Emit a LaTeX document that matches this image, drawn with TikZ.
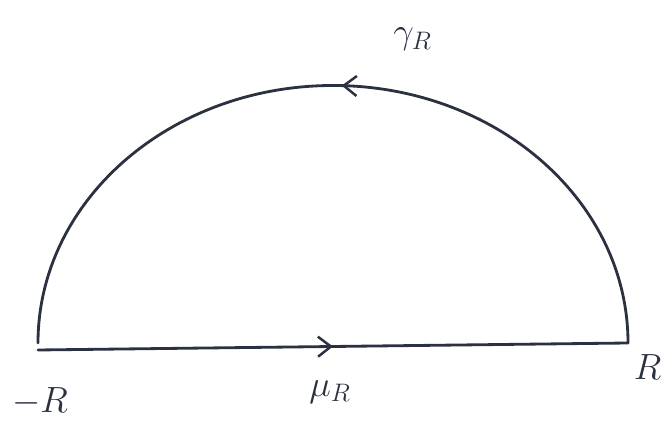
\documentclass[tikz,border=0pt]{standalone}
\usepackage{amsmath}
\definecolor{ink}{HTML}{2B3140}
\usetikzlibrary{arrows.meta,decorations.markings}

\begin{document}
\begin{tikzpicture}[
  curve/.style={draw=ink,line width=1.6pt,line cap=round},
  midarr/.style={postaction={decorate},decoration={markings,
    mark=at position #1 with {\arrow{Straight Barb[length=2.6mm,width=4mm,line width=1.4pt]}}}},
  lbl/.style={text=ink,font=\huge,inner sep=1pt}]
  \useasboundingbox (0,0) rectangle (13.28,8.64);
  \coordinate (mR) at (0.76,1.64);
  \coordinate (pR) at (12.56,1.78);
  % segment along the axis
  \draw[curve,midarr=0.50] (mR) -- (pR);
  % upper half of the contour
  \draw[curve,midarr=0.49] (pR) arc[start angle=0,end angle=180,
    x radius=5.9,y radius=5.15];
  \node[lbl] (gam) at (8.25,7.85) {$\gamma_R$};
  \node[lbl] (mu) at (6.6,0.8) {$\mu_R$};
  \node[lbl] (lft) at (0.8,0.6) {$-R$};
  \node[lbl] (rgt) at (12.95,1.3) {$R$};
\end{tikzpicture}
\end{document}
